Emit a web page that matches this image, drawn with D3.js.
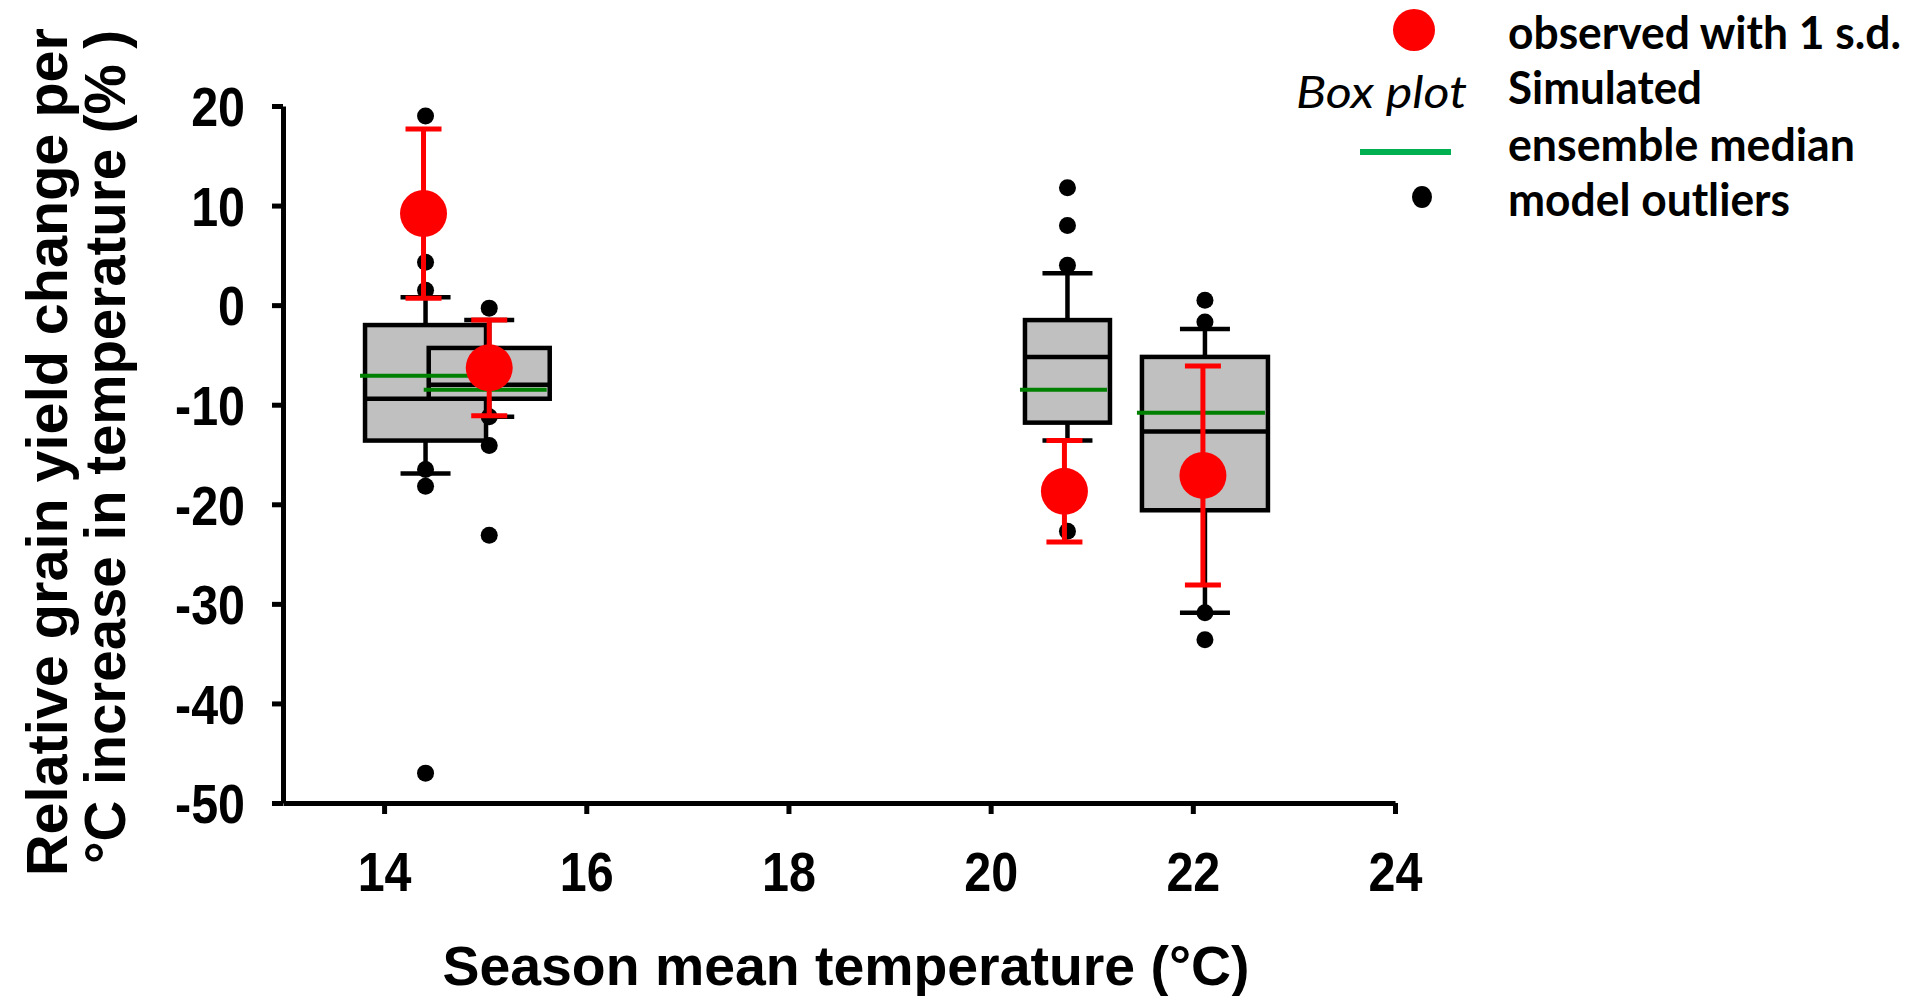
<!DOCTYPE html>
<html>
<head>
<meta charset="utf-8">
<script src="https://cdn.jsdelivr.net/npm/d3@7"></script>
<style>
  html, body { margin: 0; padding: 0; background: #ffffff; }
  svg { display: block; }
</style>
</head>
<body>
<svg id="chart" width="1919" height="996"></svg>
<script>
// ---- data ----------------------------------------------------------------
// Season mean temperature (°C) of each site
const siteTemp = [14.41, 15.04, 20.76, 22.12];
// Simulated ensemble box plots (% change per °C)
const whiskerHigh = [0.8, -1.5, 3.2, -2.4];
const quart75 = [-2.0, -4.3, -1.5, -5.2];
const quart50 = [-9.4, -8.0, -5.2, -12.7];
const quart25 = [-13.6, -9.4, -11.8, -20.6];
const whiskerLow = [-16.9, -11.2, -13.6, -30.9];
const ensembleMedian = [-7.1, -8.5, -8.5, -10.8];
const modelOutliers = [
  [19.0, 4.3, 1.5, -16.5, -18.2, -47.0],
  [-0.3, -11.2, -14.1, -23.1],
  [11.8, 8.0, 4.0, -19.2, -22.7],
  [0.5, -1.7, -30.9, -33.6]
];
// Observations with one standard deviation
const obsTemp = [14.39, 15.04, 20.73, 22.10];
const obsMean = [9.2, -6.3, -18.7, -17.1];
const obsSd = [8.5, 4.8, 5.1, 11.0];
// Axis ticks
const xTicks = [14, 16, 18, 20, 22, 24];
const yTicks = [20, 10, 0, -10, -20, -30, -40, -50];
// Text
const xTitle = "Season mean temperature (°C)";
const yTitleLines = ["Relative grain yield change per", "°C increase in temperature (% )"];
const legendLabels = ["observed with 1 s.d.", "Simulated", "ensemble median", "model outliers"];
const legendBoxLabel = "Box plot";

// ---- layout ----------------------------------------------------------------
const svg = d3.select("#chart");
const x = d3.scaleLinear().domain([13, 24]).range([283, 1395]);
const y = d3.scaleLinear().domain([-50, 20]).range([803, 106]);
const boxPx = [121, 121, 85, 126];   // box widths in pixels
const axisFont = "'Liberation Sans', Arial, sans-serif";
const legendFont = "Lato, 'Open Sans', sans-serif";
const squeeze = 0.88;
const tickFmt = d => String(d);   // plain hyphen for negatives

svg.append("rect").attr("width", 1919).attr("height", 996).attr("fill", "#fff");

// ---- axes ----
const yAxis = d3.axisLeft(y).tickValues(yTicks).tickSize(11).tickSizeOuter(0).tickPadding(27)
  .tickFormat(tickFmt);
const gy = svg.append("g").attr("transform", `translate(${x(13)},0)`).call(yAxis);

const xAxis = d3.axisBottom(x).tickValues(xTicks).tickSize(11).tickSizeOuter(0).tickPadding(38)
  .tickFormat(tickFmt);
const gx = svg.append("g").attr("transform", `translate(0,${y(-50)})`).call(xAxis);

[gx, gy].forEach(g => {
  g.select(".domain").attr("stroke", "#000").attr("stroke-width", 5);
  g.selectAll(".tick line").attr("stroke", "#000").attr("stroke-width", 5);
  g.selectAll(".tick text")
    .attr("fill", "#000")
    .style("font-family", axisFont)
    .style("font-weight", "bold")
    .style("font-size", "55px");
});
gy.selectAll(".tick text").attr("transform", `scale(${squeeze},1)`).attr("x", -38 / squeeze).attr("dy", "0.36em");
gx.selectAll(".tick text").attr("transform", `scale(${squeeze},1)`).attr("x", 0)
  .attr("text-anchor", "middle");

// Axis titles
svg.append("text")
  .attr("x", 846).attr("y", 985)
  .attr("text-anchor", "middle")
  .attr("textLength", 807).attr("lengthAdjust", "spacingAndGlyphs")
  .style("font-family", axisFont).style("font-weight", "bold").style("font-size", "56px")
  .text(xTitle);

const yTitleX = [67, 125];
const yTitleY = [452, 447];
const yTitleLen = [848, 834];
yTitleLines.forEach((line, i) => {
  svg.append("text")
    .attr("transform", `translate(${yTitleX[i]},${yTitleY[i]}) rotate(-90)`)
    .attr("text-anchor", "middle")
    .attr("textLength", yTitleLen[i]).attr("lengthAdjust", "spacingAndGlyphs")
    .style("font-family", axisFont).style("font-weight", "bold").style("font-size", "57px")
    .text(line);
});

// ---- box plots ----
const plot = svg.append("g");
const idx = d3.range(siteTemp.length);

// whiskers (behind the boxes)
idx.forEach(i => {
  const cx = x(siteTemp[i]);
  const capW = 50;
  plot.append("line").attr("x1", cx).attr("x2", cx)
    .attr("y1", y(whiskerHigh[i])).attr("y2", y(quart75[i]))
    .attr("stroke", "#000").attr("stroke-width", 4.5);
  plot.append("line").attr("x1", cx).attr("x2", cx)
    .attr("y1", y(quart25[i])).attr("y2", y(whiskerLow[i]))
    .attr("stroke", "#000").attr("stroke-width", 4.5);
  [whiskerHigh[i], whiskerLow[i]].forEach(v => {
    plot.append("line").attr("x1", cx - capW / 2).attr("x2", cx + capW / 2)
      .attr("y1", y(v)).attr("y2", y(v))
      .attr("stroke", "#000").attr("stroke-width", 4.5);
  });
});

// boxes with median lines
idx.forEach(i => {
  const cx = x(siteTemp[i]);
  const w = boxPx[i];
  plot.append("rect")
    .attr("x", cx - w / 2).attr("y", y(quart75[i]))
    .attr("width", w).attr("height", y(quart25[i]) - y(quart75[i]))
    .attr("fill", "#c0c0c0").attr("stroke", "#000").attr("stroke-width", 4.5);
  plot.append("line")
    .attr("x1", cx - w / 2).attr("x2", cx + w / 2)
    .attr("y1", y(quart50[i])).attr("y2", y(quart50[i]))
    .attr("stroke", "#000").attr("stroke-width", 4.5);
});

// ensemble median (green)
idx.forEach(i => {
  const cx = x(siteTemp[i]);
  const w = boxPx[i];
  plot.append("line")
    .attr("x1", cx - w / 2 - 5).attr("x2", cx + w / 2 - 3)
    .attr("y1", y(ensembleMedian[i])).attr("y2", y(ensembleMedian[i]))
    .attr("stroke", "#008000").attr("stroke-width", 4);
});

// model outliers
idx.forEach(i => {
  plot.selectAll(null).data(modelOutliers[i]).enter().append("circle")
    .attr("cx", x(siteTemp[i])).attr("cy", d => y(d)).attr("r", 8.5)
    .attr("fill", "#000");
});

// observations with 1 s.d.
idx.forEach(i => {
  const cx = x(obsTemp[i]);
  const hi = y(obsMean[i] + obsSd[i]);
  const lo = y(obsMean[i] - obsSd[i]);
  plot.append("line").attr("x1", cx).attr("x2", cx).attr("y1", hi).attr("y2", lo)
    .attr("stroke", "#ff0000").attr("stroke-width", 5);
  [hi, lo].forEach(v => {
    plot.append("line").attr("x1", cx - 18).attr("x2", cx + 18).attr("y1", v).attr("y2", v)
      .attr("stroke", "#ff0000").attr("stroke-width", 5);
  });
  plot.append("circle").attr("cx", cx).attr("cy", y(obsMean[i])).attr("r", 23.5)
    .attr("fill", "#ff0000");
});

// ---- legend ----
const lg = svg.append("g");
const legendY = [49, 104, 161, 216];
const legendLen = [393, 194, 347, 282];
lg.append("ellipse").attr("cx", 1414).attr("cy", 30).attr("rx", 21).attr("ry", 21).attr("fill", "#ff0000");
lg.append("line").attr("x1", 1360).attr("x2", 1451).attr("y1", 152).attr("y2", 152)
  .attr("stroke", "#00b050").attr("stroke-width", 6);
lg.append("ellipse").attr("cx", 1422).attr("cy", 197).attr("rx", 10).attr("ry", 11).attr("fill", "#000");
legendLabels.forEach((t, i) => {
  lg.append("text").attr("x", 1508).attr("y", legendY[i])
    .attr("textLength", legendLen[i]).attr("lengthAdjust", "spacingAndGlyphs")
    .style("font-family", legendFont).style("font-weight", "bold").style("font-size", "45px")
    .text(t);
});
lg.append("text").attr("x", 1467).attr("y", 108).attr("text-anchor", "end")
  .attr("textLength", 171).attr("lengthAdjust", "spacingAndGlyphs")
  .style("font-family", legendFont).style("font-style", "italic").style("font-size", "45px")
  .text(legendBoxLabel);
</script>
</body>
</html>
